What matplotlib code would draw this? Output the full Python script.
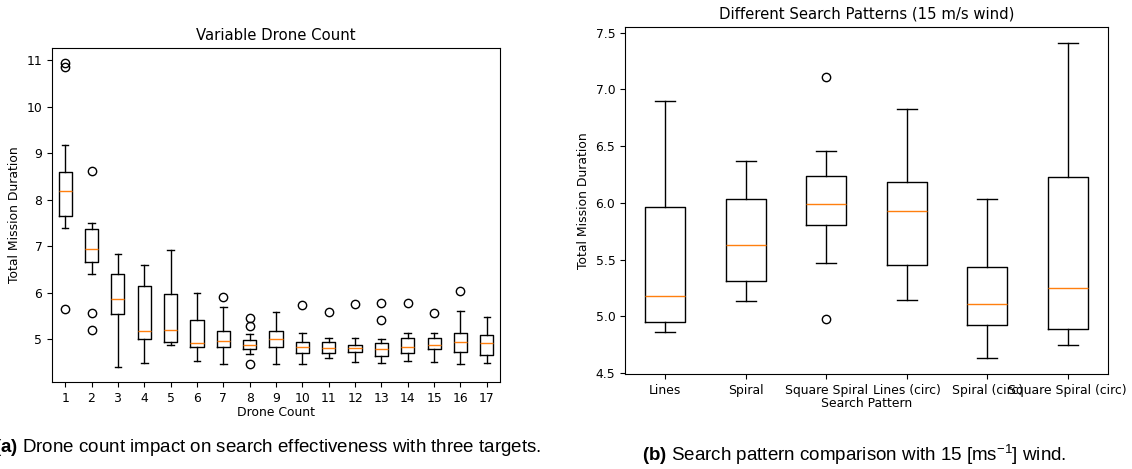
import matplotlib
matplotlib.use("Agg")
import matplotlib.pyplot as plt

plt.rcParams['mathtext.fontset'] = 'custom'
plt.rcParams['mathtext.rm'] = 'Liberation Sans'
plt.rcParams['mathtext.it'] = 'Liberation Sans:italic'
plt.rcParams['mathtext.bf'] = 'Liberation Sans:bold'

# --- (a) variable drone count: box stats
drone_counts = [str(i) for i in range(1, 18)]
a_whislo = [7.40, 6.40, 4.40, 4.48, 4.86, 4.53, 4.45, 4.68, 4.46, 4.47, 4.60, 4.50, 4.48, 4.53, 4.51, 4.45, 4.48]
a_q1 = [7.65, 6.65, 5.53, 5.00, 4.94, 4.83, 4.82, 4.78, 4.83, 4.69, 4.69, 4.71, 4.63, 4.69, 4.78, 4.71, 4.65]
a_med = [8.19, 6.93, 5.87, 5.18, 5.19, 4.91, 4.96, 4.87, 5.00, 4.83, 4.81, 4.81, 4.79, 4.83, 4.88, 4.93, 4.91]
a_q3 = [8.60, 7.37, 6.39, 6.15, 5.96, 5.41, 5.18, 4.98, 5.17, 4.94, 4.94, 4.86, 4.91, 5.02, 5.01, 5.12, 5.09]
a_whishi = [9.18, 7.50, 6.82, 6.60, 6.91, 6.00, 5.68, 5.11, 5.59, 5.12, 5.01, 5.02, 4.99, 5.12, 5.12, 5.61, 5.48]
a_fliers = [[10.94, 10.86, 5.65], [8.62, 5.55, 5.20], [], [], [], [], [5.91],
            [5.46, 5.28, 4.47], [], [5.74], [5.59], [5.75], [5.78, 5.40],
            [5.78], [5.55], [6.04], []]

# --- (b) search patterns, 15 m/s wind
patterns = ['Lines', 'Spiral', 'Square Spiral', 'Lines (circ)', 'Spiral (circ)', 'Square Spiral (circ)']
b_whislo = [4.86, 5.13, 5.47, 5.14, 4.63, 4.75]
b_q1 = [4.95, 5.31, 5.80, 5.45, 4.92, 4.89]
b_med = [5.18, 5.63, 5.99, 5.93, 5.11, 5.25]
b_q3 = [5.96, 6.03, 6.24, 6.18, 5.43, 6.23]
b_whishi = [6.90, 6.37, 6.46, 6.83, 6.03, 7.41]
b_fliers = [[], [], [7.11, 4.98], [], [], []]


def make_stats(labels, lo, q1, med, q3, hi, fl):
    return [dict(label=labels[i], whislo=lo[i], q1=q1[i], med=med[i], q3=q3[i],
                 whishi=hi[i], fliers=fl[i]) for i in range(len(labels))]


fs = 8.9  # figure was shrunk a bit, so default 10pt -> ~8.9

fig = plt.figure(figsize=(11.32, 4.69), dpi=100)

ax1 = fig.add_axes([52 / 1132, 87 / 469, 448 / 1132, 334 / 469])
ax1.bxp(make_stats(drone_counts, a_whislo, a_q1, a_med, a_q3, a_whishi, a_fliers))
ax1.set_title('Variable Drone Count', fontsize=fs * 1.2)
ax1.set_xlabel('Drone Count', fontsize=fs, labelpad=1)
ax1.set_ylabel('Total Mission Duration', fontsize=fs)
ax1.tick_params(labelsize=fs)

ax2 = fig.add_axes([625 / 1132, 95 / 469, 483 / 1132, 347 / 469])
ax2.bxp(make_stats(patterns, b_whislo, b_q1, b_med, b_q3, b_whishi, b_fliers))
ax2.set_title('Different Search Patterns (15 m/s wind)', fontsize=fs * 1.2)
ax2.set_xlabel('Search Pattern', fontsize=fs, labelpad=0)
ax2.set_ylabel('Total Mission Duration', fontsize=fs)
ax2.tick_params(labelsize=fs)

fig.text(268 / 1132, 1 - 447 / 469, r'$\bf{(a)}$ Drone count impact on search effectiveness with three targets.',
         ha='center', va='center', fontsize=13.5, family='Liberation Sans')
fig.text(854 / 1132, 1 - 455 / 469, r'$\bf{(b)}$ Search pattern comparison with 15 [ms$^{-1}$] wind.',
         ha='center', va='center', fontsize=13.5, family='Liberation Sans')

fig.savefig('out.png', dpi=100)
